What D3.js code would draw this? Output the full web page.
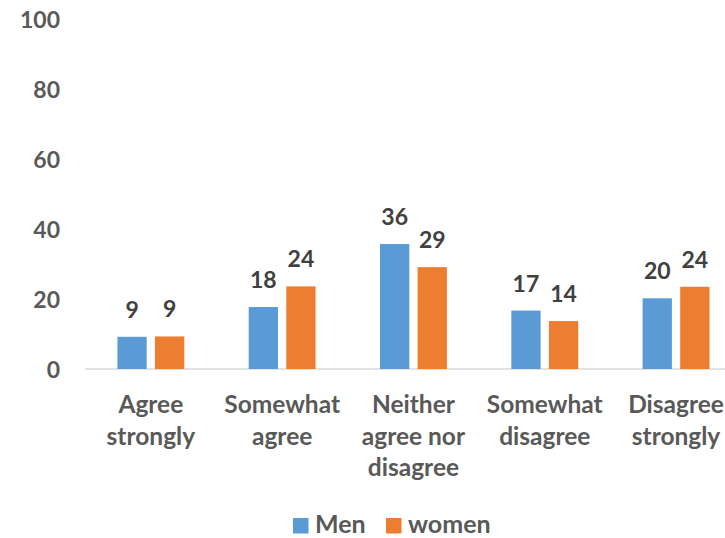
<!DOCTYPE html>
<html>
<head>
<meta charset="utf-8">
<script src="https://cdn.jsdelivr.net/npm/d3@7"></script>
<style>
  html, body { margin: 0; padding: 0; background: #fff; }
  svg { display: block; }
  text { font-family: Lato, "Open Sans", sans-serif; font-weight: 700; }
</style>
</head>
<body>
<svg id="chart" width="725" height="538"></svg>
<script>
const categories = [
  ["Agree", "strongly"],
  ["Somewhat", "agree"],
  ["Neither", "agree nor", "disagree"],
  ["Somewhat", "disagree"],
  ["Disagree", "strongly"]
];
const seriesNames = ["Men", "women"];
const men = [9.2, 17.7, 35.7, 16.7, 20.2];
const women = [9.3, 23.6, 29.1, 13.7, 23.5];
const yTicks = [0, 20, 40, 60, 80, 100];
const colors = ["#5B9BD5", "#ED7D31"];

const svg = d3.select("#chart");
const x0 = d3.scaleBand().domain(d3.range(categories.length)).range([85.2, 741.7]).paddingInner(0).paddingOuter(0);
const y = d3.scaleLinear().domain([0, 100]).range([369, 19]);
const barW = 29.3, gap = 8.3;
const x1 = d3.scaleOrdinal().domain(seriesNames).range([-(gap / 2 + barW), gap / 2]);

// baseline
svg.append("line")
  .attr("x1", 85).attr("x2", 725)
  .attr("y1", y(0)).attr("y2", y(0))
  .attr("stroke", "#D9D9D9").attr("stroke-width", 1.5);

// y axis labels
const yAxis = d3.axisLeft(y).tickValues(yTicks).tickSize(0).tickPadding(0);
const yg = svg.append("g").attr("transform", "translate(60,0)").call(yAxis);
yg.select(".domain").remove();
yg.selectAll("text")
  .attr("font-size", 23).attr("fill", "#595959")
  .attr("font-family", "Lato, sans-serif").attr("font-weight", 700)
  .attr("dy", "0.36em");

// bars
const series = [men, women];
series.forEach((vals, si) => {
  const g = svg.append("g");
  g.selectAll("rect").data(vals).enter().append("rect")
    .attr("x", (d, i) => x0(i) + x0.bandwidth() / 2 + x1(seriesNames[si]))
    .attr("y", d => y(d))
    .attr("width", barW)
    .attr("height", d => y(0) - y(d))
    .attr("fill", colors[si]);
  g.selectAll("text").data(vals).enter().append("text")
    .attr("x", (d, i) => x0(i) + x0.bandwidth() / 2 + x1(seriesNames[si]) + barW / 2)
    .attr("y", d => y(d) - 19)
    .attr("text-anchor", "middle")
    .attr("font-size", 23)
    .attr("fill", "#404040")
    .text(d => Math.round(d));
});

// category labels
const cg = svg.append("g");
categories.forEach((lines, i) => {
  const t = cg.append("text")
    .attr("x", x0(i) + x0.bandwidth() / 2)
    .attr("y", 413)
    .attr("text-anchor", "middle")
    .attr("font-size", 24.5)
    .attr("fill", "#595959");
  lines.forEach((ln, j) => {
    t.append("tspan").attr("x", x0(i) + x0.bandwidth() / 2).attr("dy", j === 0 ? 0 : 31.7).text(ln);
  });
});

// legend
const legendX = [293, 386];
seriesNames.forEach((name, si) => {
  svg.append("rect").attr("x", legendX[si]).attr("y", 518).attr("width", 15.5).attr("height", 15.5).attr("fill", colors[si]);
  svg.append("text").attr("x", legendX[si] + 22).attr("y", 533.3)
    .attr("font-size", 25).attr("fill", "#595959").text(name);
});
</script>
</body>
</html>
